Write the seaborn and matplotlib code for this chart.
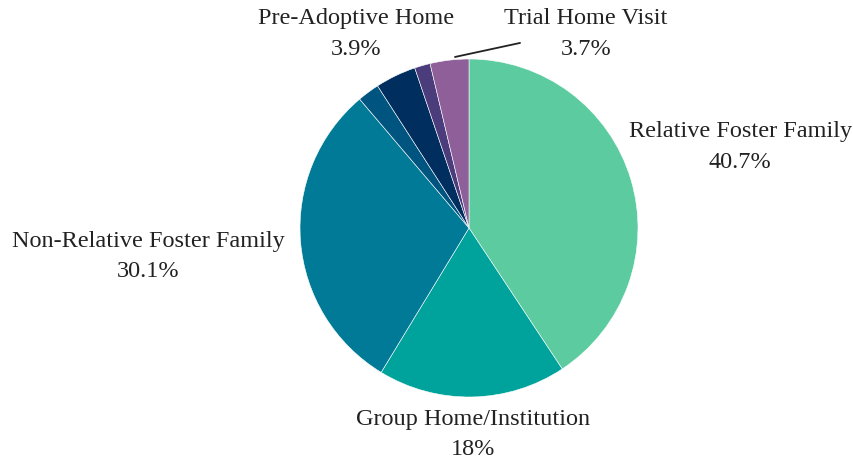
import matplotlib
matplotlib.use('Agg')
from matplotlib import pyplot as plt
import seaborn as sns

# 配置先の内訳
categories = ['Relative Foster Family', 'Group Home/Institution', 'Non-Relative Foster Family',
              'Other', 'Pre-Adoptive Home', 'Runaway', 'Trial Home Visit']
shares = [40.7, 18.0, 30.1, 2.1, 3.9, 1.5, 3.7]
pct_labels = ['40.7%', '18%', '30.1%', '', '3.9%', '', '3.7%']
colors = ['#5ccb9f', '#00a39b', '#007a96', '#005580', '#002e5f', '#4b3d7c', '#8f5f99']

sns.set_theme(style='white')
plt.rcParams['font.family'] = ['Liberation Serif', 'DejaVu Serif']

fig = plt.figure(figsize=(8.54, 4.63), dpi=100)
ax = fig.add_axes([0, 0, 1, 1])

ax.pie(shares, colors=sns.color_palette(colors), startangle=90, counterclock=False,
       radius=1, wedgeprops=dict(edgecolor='white', linewidth=0.4))

# ラベル位置（テキストのみ）
label_pos = {
    'Relative Foster Family': (1.604, 0.479),
    'Group Home/Institution': (0.024, -1.222),
    'Non-Relative Foster Family': (-1.899, -0.169),
    'Pre-Adoptive Home': (-0.669, 1.148),
    'Trial Home Visit': (0.692, 1.148),
}
for name, pct in zip(categories, pct_labels):
    if name in label_pos:
        x, y = label_pos[name]
        ax.text(x, y, name + '\n' + pct, ha='center', va='center', fontsize=17.5,
                color='#222222', linespacing=1.6)

ax.plot([-0.083, 0.302], [1.012, 1.095], color='#222222', lw=1.3)

ax.set_xlim(-469 / 169, (854 - 469) / 169)
ax.set_ylim(-235 / 169, 228 / 169)
ax.set_aspect('auto')
ax.axis('off')

fig.savefig('out.png', dpi=100)
